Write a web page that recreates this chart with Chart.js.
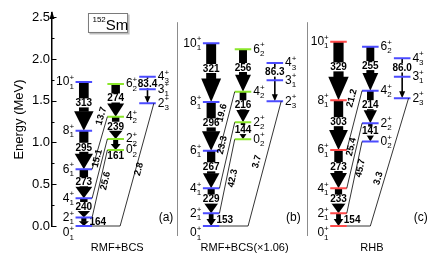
<!DOCTYPE html>
<html>
<head>
<meta charset="utf-8">
<title>152Sm level scheme</title>
<script src="https://cdn.jsdelivr.net/npm/chart.js@4.4.1/dist/chart.umd.min.js"></script>
<style>
  html, body { margin: 0; padding: 0; background: #fff; }
  #wrap { width: 436px; height: 262px; }
</style>
</head>
<body>
<div id="wrap"><canvas id="chart" width="436" height="262"></canvas></div>
<script>
// ── Data ────────────────────────────────────

const panelNames = ['RMF+BCS', 'RMF+BCS(\u00d71.06)', 'RHB'];
const panelTags = ['(a)', '(b)', '(c)'];

// ground band 0+1 ... 10+1, energies in MeV
const groundSpins = ['0', '2', '4', '6', '8', '10'];
const groundE_a = [0, 0.102, 0.332, 0.679, 1.141, 1.725];
const groundE_b = [0, 0.152, 0.451, 0.902, 1.485, 2.188];
const groundE_c = [0, 0.152, 0.451, 0.910, 1.505, 2.207];
// B(E2; I -> I-2) in W.u., starting with 2 -> 0
const groundBE2_a = [164, 240, 273, 295, 313];
const groundBE2_b = [153, 229, 267, 296, 321];
const groundBE2_c = [154, 233, 273, 303, 329];

// band built on 0+2
const sideSpins = ['0', '2', '4', '6'];
const sideE_a = [0.910, 1.042, 1.309, 1.701];
const sideE_b = [1.038, 1.242, 1.608, 2.116];
const sideE_c = [1.012, 1.230, 1.620, 2.147];
const sideBE2_a = [161, 239, 274];
const sideBE2_b = [144, 216, 256];
const sideBE2_c = [141, 214, 255];

// gamma band: 2+3, 3+1, 4+3
const gammaSpins = ['2', '3', '4'];
const gammaIdx = ['3', '1', '3'];
const gammaE_a = [1.469, 1.637, 1.788];
const gammaE_b = [1.493, 1.745, 1.952];
const gammaE_c = [1.529, 1.788, 2.008];
const gammaBE2 = ['83.4', '86.3', '86.0'];   // 4+3 -> 2+3

// interband: 4+2->6+1, 2+2->4+1, 0+2->2+1, 2+3->0+1
const interBE2_a = ['13.7', '15.1', '25.6', '2.8'];
const interBE2_b = ['19.6', '23.3', '42.3', '3.7'];
const interBE2_c = ['21.2', '25.4', '45.7', '3.3'];

const yTicks = [0, 0.5, 1.0, 1.5, 2.0, 2.5];

const panels = [
    { ground: groundE_a, gB: groundBE2_a, side: sideE_a, sB: sideBE2_a, gamma: gammaE_a, inter: interBE2_a },
    { ground: groundE_b, gB: groundBE2_b, side: sideE_b, sB: sideBE2_b, gamma: gammaE_b, inter: interBE2_b },
    { ground: groundE_c, gB: groundBE2_c, side: sideE_c, sB: sideBE2_c, gamma: gammaE_c, inter: interBE2_c },
];

// ── Layout / style ──────────────────────────

const BLUE = '#4b4bff', GREEN = '#8ae62a', RED = '#ff4a4a';
const PANEL_X = [0, 4, 8];          // ground column of each panel; side = +1, gamma = +2
const HALF = 0.26;                  // half length of a level line (x units)
const SEPARATORS = [2.92, 7.0];
const bandColors = [[BLUE, GREEN, BLUE], [BLUE, GREEN, BLUE], [RED, BLUE, BLUE]];
const gammaFoot = [0.14, 0.16, 0.0];
// [fraction along line, perpendicular offset px] for interband labels
const interLabelPos = [
    [[0.02, -6], [0.35, -5], [0.44, 5], [0.53, 3]],
    [[0.39, -7], [0.37, -7], [0.51, 6], [0.50, -8]],
    [[0.16, -8], [0.38, -5], [0.36, 4], [0.64, -6]],
];
const NARROW = '"Liberation Sans Narrow", "Arial Narrow", "Liberation Sans", Arial, sans-serif';
const SANS = '"Liberation Sans", Arial, Helvetica, sans-serif';

// ── Dataset builders ────────────────────────

function levelPoints(col, energies) {
    const pts = [];
    energies.forEach(e => pts.push({ x: col - HALF, y: e }, { x: col + HALF, y: e }, { x: col, y: null }));
    return pts;
}

function interLines(p, k) {
    const g = PANEL_X[k], s = g + 1, gm = g + 2;
    return [
        [{ x: s - HALF, y: p.side[2] }, { x: g + HALF, y: p.ground[3] }],
        [{ x: s - HALF, y: p.side[1] }, { x: g + HALF, y: p.ground[2] }],
        [{ x: s - HALF, y: p.side[0] }, { x: g + HALF, y: p.ground[1] }],
        [{ x: gm + 0.2, y: p.gamma[0] }, { x: s + gammaFoot[k], y: 0 }, { x: g + HALF, y: 0 }],
    ];
}

const datasets = [];
panels.forEach((p, k) => {
    const pts = [];
    interLines(p, k).forEach(line => { pts.push(...line, { x: line[0].x, y: null }); });
    datasets.push({ data: pts, borderColor: '#000', borderWidth: 0.8 });
});
panels.forEach((p, k) => {
    const g = PANEL_X[k];
    datasets.push({ data: levelPoints(g, p.ground), borderColor: bandColors[k][0], borderWidth: 2 });
    datasets.push({ data: levelPoints(g + 1, p.side), borderColor: bandColors[k][1], borderWidth: 2 });
    datasets.push({ data: levelPoints(g + 2, p.gamma), borderColor: bandColors[k][2], borderWidth: 2 });
});
datasets.forEach(ds => Object.assign(ds, { showLine: true, pointRadius: 0, spanGaps: false, clip: false }));

// ── Drawing helpers ─────────────────────────

function drawArrow(ctx, xs, ys, col, eTop, eBot, be2, mode) {
    const cx = xs.getPixelForValue(col);
    const top = ys.getPixelForValue(eTop), bot = ys.getPixelForValue(eBot);
    const gap = bot - top;
    const w = be2 * 0.031, hw = w * 2;
    if (!mode) mode = gap < 14 ? 'below' : 'in';
    const headTop = mode === 'in' ? top + 0.6 * gap : top + 0.45 * gap;
    ctx.fillStyle = '#000';
    ctx.fillRect(cx - w / 2, top, w, headTop - top + 0.5);
    ctx.beginPath();
    ctx.moveTo(cx - hw / 2, headTop);
    ctx.lineTo(cx + hw / 2, headTop);
    ctx.lineTo(cx, bot);
    ctx.closePath();
    ctx.fill();

    const txt = String(be2);
    ctx.font = 'bold 10px ' + NARROW;
    ctx.textBaseline = 'middle';
    const tw = ctx.measureText(txt).width;
    if (mode === 'in') {
        const ly = top + 0.43 * gap;
        ctx.fillStyle = '#fff';
        ctx.fillRect(cx - tw / 2 - 1, ly - 4.5, tw + 2, 9);
        ctx.fillStyle = '#000';
        ctx.textAlign = 'center';
        ctx.fillText(txt, cx, ly + 0.5);
    } else if (mode === 'right') {
        ctx.textAlign = 'left';
        ctx.fillText(txt, cx + hw / 2 + 0.5, (top + bot) / 2 + 1);
    } else {
        ctx.textAlign = 'center';
        ctx.fillText(txt, cx, bot + 6);
    }
}

function drawGammaArrow(ctx, xs, ys, col, e, label) {
    const cx = xs.getPixelForValue(col);
    const bot = ys.getPixelForValue(e[0]), mid = ys.getPixelForValue(e[1]), top = ys.getPixelForValue(e[2]);
    ctx.strokeStyle = '#000';
    ctx.lineWidth = 1.6;
    ctx.beginPath();
    ctx.moveTo(cx, top);
    ctx.lineTo(cx, bot - 6);
    ctx.stroke();
    ctx.fillStyle = '#000';
    ctx.beginPath();
    ctx.moveTo(cx - 3, bot - 7);
    ctx.lineTo(cx + 3, bot - 7);
    ctx.lineTo(cx, bot);
    ctx.closePath();
    ctx.fill();
    ctx.font = 'bold 10px ' + NARROW;
    ctx.textBaseline = 'middle';
    ctx.textAlign = 'center';
    const tw = ctx.measureText(label).width;
    const ly = (top + mid) / 2 + 0.5;
    ctx.fillStyle = '#fff';
    ctx.fillRect(cx - tw / 2 - 1, ly - 4.5, tw + 2, 9);
    ctx.fillStyle = '#000';
    ctx.fillText(label, cx, ly + 0.5);
}

// J^pi_n label, e.g. 10+1
function drawJ(ctx, px, py, spin, idx, align) {
    ctx.font = '12px ' + NARROW;
    const mw = ctx.measureText(spin).width;
    ctx.font = '8px ' + NARROW;
    const sw = Math.max(ctx.measureText('+').width, ctx.measureText(idx).width);
    const x0 = align === 'right' ? px - mw - sw : px;
    ctx.fillStyle = '#000';
    ctx.textAlign = 'left';
    ctx.textBaseline = 'middle';
    ctx.font = '12px ' + NARROW;
    ctx.fillText(spin, x0, py);
    ctx.font = '8px ' + NARROW;
    ctx.fillText('+', x0 + mw, py - 4);
    ctx.fillText(idx, x0 + mw, py + 4.5);
}

const schemePlugin = {
    id: 'scheme',
    beforeDatasetsDraw(chart) {
        const { ctx, scales: { x, y } } = chart;
        ctx.save();
        panels.forEach((p, k) => {
            const g = PANEL_X[k];
            for (let i = 1; i < p.ground.length; i++) {
                drawArrow(ctx, x, y, g, p.ground[i], p.ground[i - 1], p.gB[i - 1], i === 1 ? 'right' : null);
            }
            for (let i = 1; i < p.side.length; i++) {
                drawArrow(ctx, x, y, g + 1, p.side[i], p.side[i - 1], p.sB[i - 1], null);
            }
            drawGammaArrow(ctx, x, y, g + 2, p.gamma, gammaBE2[k]);
        });
        ctx.restore();
    },
    afterDatasetsDraw(chart) {
        const { ctx, scales: { x, y } } = chart;
        ctx.save();
        panels.forEach((p, k) => {
            const g = PANEL_X[k];
            // level labels
            p.ground.forEach((e, i) => {
                const py = y.getPixelForValue(e) + (i === 0 ? 7 : 0);
                drawJ(ctx, x.getPixelForValue(g - HALF) - 1.5, py, groundSpins[i], '1', 'right');
            });
            p.side.forEach((e, i) => drawJ(ctx, x.getPixelForValue(g + 1 + HALF) + 2, y.getPixelForValue(e), sideSpins[i], '2', 'left'));
            p.gamma.forEach((e, i) => drawJ(ctx, x.getPixelForValue(g + 2 + HALF) + 2, y.getPixelForValue(e), gammaSpins[i], gammaIdx[i], 'left'));

            // interband labels, rotated along their lines
            interLines(p, k).forEach((line, j) => {
                const xT = x.getPixelForValue(line[0].x), yT = y.getPixelForValue(line[0].y);
                const xB = x.getPixelForValue(line[1].x), yB = y.getPixelForValue(line[1].y);
                const ang = Math.atan2(yT - yB, xT - xB);
                const [t, off] = interLabelPos[k][j];
                const px = xT + t * (xB - xT) + off * Math.cos(ang + Math.PI / 2);
                const py = yT + t * (yB - yT) + off * Math.sin(ang + Math.PI / 2);
                ctx.save();
                ctx.translate(px, py);
                ctx.rotate(ang);
                ctx.font = 'bold 9.5px ' + NARROW;
                ctx.fillStyle = '#000';
                ctx.textAlign = 'center';
                ctx.textBaseline = 'middle';
                ctx.fillText(p.inter[j], 0, 0);
                ctx.restore();
            });

            // panel name and tag
            ctx.font = '11px ' + SANS;
            ctx.fillStyle = '#000';
            ctx.textAlign = 'center';
            ctx.textBaseline = 'middle';
            ctx.fillText(panelNames[k], x.getPixelForValue(g + 1.05), y.getPixelForValue(-0.263));
            ctx.font = '12px ' + SANS;
            ctx.fillText(panelTags[k], x.getPixelForValue(g + 2.58), y.getPixelForValue(0.096));
        });

        // panel separators
        ctx.strokeStyle = '#8c8c8c';
        ctx.lineWidth = 1;
        SEPARATORS.forEach(v => {
            const px = Math.round(x.getPixelForValue(v)) + 0.5;
            ctx.beginPath();
            ctx.moveTo(px, y.getPixelForValue(2.44));
            ctx.lineTo(px, y.getPixelForValue(-0.12));
            ctx.stroke();
        });

        // inward ticks and arrow on the energy axis
        const ax = chart.chartArea.left;
        ctx.strokeStyle = '#000';
        ctx.lineWidth = 1;
        for (let v = 0; v <= 2.5001; v += 0.25) {
            const py = Math.round(y.getPixelForValue(v)) + 0.5;
            const major = Math.abs(v * 2 - Math.round(v * 2)) < 1e-6;
            ctx.beginPath();
            ctx.moveTo(ax, py);
            ctx.lineTo(ax + (major ? 4.5 : 2.5), py);
            ctx.stroke();
        }
        const topY = chart.chartArea.top;
        ctx.fillStyle = '#000';
        ctx.beginPath();
        ctx.moveTo(ax, topY - 2);
        ctx.lineTo(ax - 2.5, topY + 6);
        ctx.lineTo(ax + 2.5, topY + 6);
        ctx.closePath();
        ctx.fill();

        // nucleus box
        const bx = x.getPixelForValue(0.13), bw = x.getPixelForValue(1.39) - bx;
        const by = y.getPixelForValue(2.55), bh = y.getPixelForValue(2.311) - by;
        ctx.fillStyle = '#bdbdbd';
        ctx.fillRect(bx + 1.5, by + 1.5, bw, bh);
        ctx.fillStyle = '#fff';
        ctx.fillRect(bx, by, bw, bh);
        ctx.strokeStyle = '#7a7a7a';
        ctx.strokeRect(bx + 0.5, by + 0.5, bw - 1, bh - 1);
        ctx.fillStyle = '#000';
        ctx.textAlign = 'left';
        ctx.textBaseline = 'alphabetic';
        ctx.font = '8px ' + SANS;
        ctx.fillText('152', bx + 4.5, by + 9);
        const sx = bx + 4.5 + ctx.measureText('152').width;
        ctx.font = '15px ' + SANS;
        ctx.fillText('Sm', sx, by + 17);
        ctx.restore();
    },
};

// ── Chart ───────────────────────────────────

new Chart(document.getElementById('chart'), {
    type: 'scatter',
    data: { datasets },
    options: {
        responsive: false,
        devicePixelRatio: 1,
        animation: false,
        layout: { padding: { left: 0, right: 2, top: 13, bottom: 36 } },
        plugins: { legend: { display: false }, tooltip: { enabled: false } },
        scales: {
            x: { type: 'linear', min: -1, max: 11, display: false },
            y: {
                type: 'linear',
                position: 'left',
                min: 0,
                max: 2.55,
                afterFit(scale) { scale.width = 52; },
                afterBuildTicks(scale) { scale.ticks = yTicks.map(v => ({ value: v })); },
                ticks: {
                    color: '#000',
                    autoSkip: false,
                    padding: 2,
                    font: { family: SANS, size: 13 },
                    callback: v => Number(v).toFixed(1),
                },
                grid: { display: false, drawTicks: false },
                border: { display: true, color: '#000', width: 1.5 },
                title: {
                    display: true,
                    text: 'Energy (MeV)',
                    color: '#000',
                    font: { family: SANS, size: 13 },
                    padding: { top: 12, bottom: 0 },
                },
            },
        },
    },
    plugins: [schemePlugin],
});
</script>
</body>
</html>
